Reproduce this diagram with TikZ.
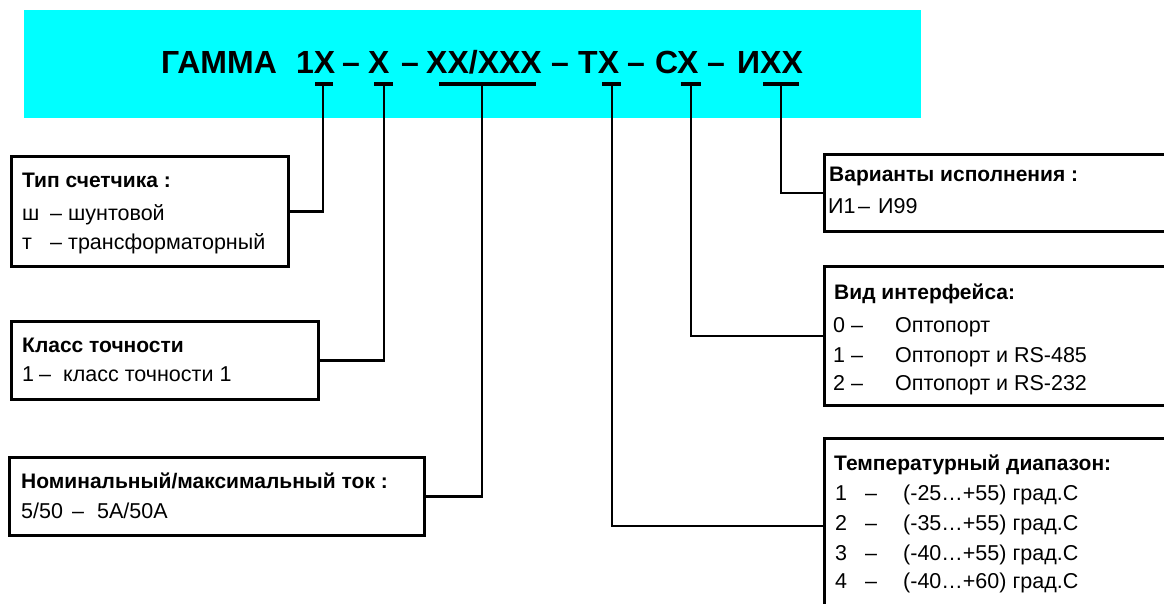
\documentclass[tikz,border=0pt]{standalone}
\usepackage{fontspec}
\setmainfont{Liberation Sans}
\definecolor{cyanbg}{RGB}{0,255,255}
\begin{document}
\begin{tikzpicture}[x=1pt,y=-1pt,
  box/.style={draw, line width=2.6pt, inner sep=0pt, outer sep=0pt, anchor=north west},
  bar/.style={fill=black, inner sep=0pt, outer sep=0pt, minimum height=3.6pt},
  conn/.style={line width=2.6pt},
  ttl/.style={anchor=base west, inner sep=0pt, font=\fontsize{32}{32}\selectfont\bfseries},
  hd/.style={anchor=base west, inner sep=0pt, font=\fontsize{21}{24}\selectfont\bfseries},
  ln/.style={anchor=base west, inner sep=0pt, font=\fontsize{21.5}{24}\selectfont}]
\clip (0,0) rectangle (1164,604);
\useasboundingbox (0,0) rectangle (1164,604);
% band
\node[fill=cyanbg, anchor=north west, minimum width=897pt, minimum height=108pt, inner sep=0pt] (band) at (24,10) {};
% title pieces
\node[ttl] (g0) at (161,74) {ГАММА};
\node[ttl] (g1) at (296,74) {1Х};
\node[ttl] (d1) at (342,74) {–};
\node[ttl] (g2) at (368,74) {Х};
\node[ttl] (d2) at (401,74) {–};
\node[ttl] (g3) at (426,74) {ХХ/ХХХ};
\node[ttl] (d3) at (551,74) {–};
\node[ttl] (g4) at (578,74) {ТХ};
\node[ttl] (d4) at (627,74) {–};
\node[ttl] (g5) at (655,74) {СХ};
\node[ttl] (d5) at (707,74) {–};
\node[ttl] (g6) at (737,74) {ИХХ};
% tick bars
\node[bar, minimum width=18pt] (k1) at (324,84) {};
\node[bar, minimum width=19pt] (k2) at (383.5,84) {};
\node[bar, minimum width=97pt] (k3) at (487.5,84) {};
\node[bar, minimum width=19pt] (k4) at (611.5,84) {};
\node[bar, minimum width=20pt] (k5) at (691,84) {};
\node[bar, minimum width=36pt] (k6) at (781,84) {};
\coordinate (s1) at (323,84);
\coordinate (s2) at (384,84);
\coordinate (s3) at (482,84);
\coordinate (s4) at (612,84);
\coordinate (s5) at (691,84);
\coordinate (s6) at (781,84);
% boxes
\node[box, minimum width=277pt, minimum height=110pt] (b1) at (11.5,156.5) {};
\node[box, minimum width=307pt, minimum height=78pt] (b2) at (11.5,321.5) {};
\node[box, minimum width=415pt, minimum height=78pt] (b3) at (9.5,457.5) {};
\node[box, minimum width=400pt, minimum height=77pt] (bv) at (824.5,154.5) {};
\node[box, minimum width=400pt, minimum height=139pt] (bi) at (824.5,266.5) {};
\node[box, minimum width=400pt, minimum height=175pt] (bt) at (824.5,438.5) {};
% connectors
\draw[conn] (s1) |- (b1);
\draw[conn] (s2) |- (b2);
\draw[conn] (s3) |- (b3);
\draw[conn] (s4) |- (bt);
\draw[conn] (s5) |- (bi);
\draw[conn] (s6) |- (bv);
% box 1
\node[hd] (h1) at (22,188) {Тип счетчика :};
\node[ln] (l11) at (22,220) {\makebox[28pt][l]{ш}\makebox[18pt][l]{–}шунтовой};
\node[ln] (l12) at (22,249) {\makebox[28pt][l]{т}\makebox[18pt][l]{–}трансформаторный};
% box 2
\node[hd] (h2) at (22,352) {Класс точности};
\node[ln] (l21) at (22,381) {\makebox[17pt][l]{1}\makebox[24pt][l]{–}класс точности 1};
% box 3
\node[hd] (h3) at (21,488) {Номинальный/максимальный ток :};
\node[ln] (l31) at (21,518) {\makebox[51pt][l]{5/50}\makebox[25pt][l]{–}5А/50А};
% variants
\node[hd] (hv) at (829,182) {Варианты исполнения :};
\node[ln] (lv1) at (828,213) {\makebox[30pt][l]{И1}\makebox[20pt][l]{–}И99};
% interface
\node[hd] (hi) at (834,299) {Вид интерфейса:};
\node[ln] (li1) at (833,332) {\makebox[18pt][l]{0}\makebox[44pt][l]{–}Оптопорт};
\node[ln] (li2) at (833,362) {\makebox[18pt][l]{1}\makebox[44pt][l]{–}Оптопорт и RS-485};
\node[ln] (li3) at (833,390) {\makebox[18pt][l]{2}\makebox[44pt][l]{–}Оптопорт и RS-232};
% temperature
\node[hd] (ht) at (834,470) {Температурный диапазон:};
\node[ln] (lt1) at (835,500) {\makebox[30pt][l]{1}\makebox[38pt][l]{–}(-25…+55) град.С};
\node[ln] (lt2) at (835,530) {\makebox[30pt][l]{2}\makebox[38pt][l]{–}(-35…+55) град.С};
\node[ln] (lt3) at (835,560) {\makebox[30pt][l]{3}\makebox[38pt][l]{–}(-40…+55) град.С};
\node[ln] (lt4) at (835,588) {\makebox[30pt][l]{4}\makebox[38pt][l]{–}(-40…+60) град.С};
\end{tikzpicture}
\end{document}
